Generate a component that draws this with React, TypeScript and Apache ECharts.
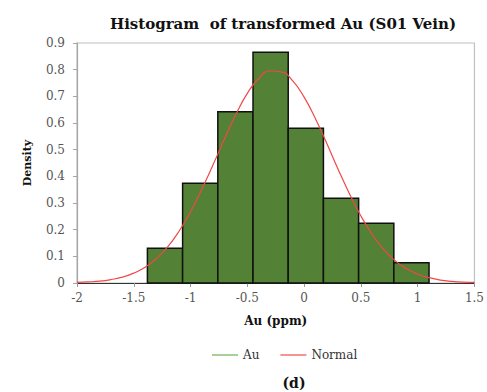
import React, { useEffect, useRef } from "react";
import * as echarts from "echarts";

const binEdges = [-1.38, -1.07, -0.76, -0.45, -0.14, 0.17, 0.48, 0.79, 1.1];
const densities = [0.13, 0.374, 0.642, 0.865, 0.58, 0.318, 0.224, 0.076];
const curveX = [-2, -1.9, -1.8, -1.7, -1.6, -1.5, -1.4, -1.3, -1.2, -1.1, -1.0, -0.9, -0.8, -0.7, -0.6, -0.5, -0.4, -0.3, -0.2, -0.1, 0, 0.1, 0.2, 0.3, 0.4, 0.5, 0.6, 0.7, 0.8, 0.9, 1.0, 1.1, 1.2, 1.3, 1.4, 1.5];
const curveY = [0.002, 0.004, 0.007, 0.013, 0.022, 0.037, 0.059, 0.092, 0.136, 0.195, 0.267, 0.352, 0.445, 0.542, 0.633, 0.711, 0.767, 0.795, 0.792, 0.758, 0.697, 0.616, 0.523, 0.426, 0.334, 0.251, 0.182, 0.126, 0.084, 0.054, 0.033, 0.02, 0.011, 0.006, 0.003, 0.002];
const xTickLabels = ["-2", "-1.5", "-1", "-0.5", "0", "0.5", "1", "1.5"];
const yTickLabels = ["0", "0.1", "0.2", "0.3", "0.4", "0.5", "0.6", "0.7", "0.8", "0.9"];

const FONT = "DejaVu Serif";

export default function App() {
  const ref = useRef<HTMLDivElement>(null);
  useEffect(() => {
    if (!ref.current) return;
    const chart = echarts.init(ref.current, null, { renderer: "svg" });
    const histData = densities.map((d, i) => [binEdges[i], binEdges[i + 1], d]);
    const curveData = curveX.map((x, i) => [x, curveY[i]]);
    chart.setOption({
      animation: false,
      backgroundColor: "#ffffff",
      grid: {
        left: 77,
        right: 8,
        top: 43,
        bottom: 109,
        show: true,
        borderColor: "#c0c0c0",
        borderWidth: 1.2,
      },
      graphic: [
        {
          type: "text",
          x: 283,
          y: 24,
          style: {
            text: "Histogram  of transformed Au (S01 Vein)",
            font: `bold 15px "${FONT}"`,
            fill: "#111",
            textAlign: "center",
            textVerticalAlign: "middle",
          },
        },
        {
          type: "text",
          x: 294,
          y: 383,
          style: {
            text: "(d)",
            font: `bold 14px "${FONT}"`,
            fill: "#111",
            textAlign: "center",
            textVerticalAlign: "middle",
          },
        },
      ],
      legend: {
        left: 207,
        top: 344,
        itemGap: 21,
        itemWidth: 26,
        itemHeight: 1.5,
        textStyle: { fontFamily: FONT, fontSize: 12, color: "#333" },
        data: [
          { name: "Au", icon: "rect", itemStyle: { color: "#8cc07a" } },
          { name: "Normal", icon: "rect", itemStyle: { color: "#f07070" } },
        ],
      },
      xAxis: {
        type: "value",
        min: -2,
        max: 1.5,
        interval: 0.5,
        name: "Au (ppm)",
        nameLocation: "middle",
        nameGap: 32,
        nameTextStyle: { fontFamily: FONT, fontSize: 12, fontWeight: "bold", color: "#111" },
        axisLine: { show: true, lineStyle: { color: "#333", width: 1.2 } },
        axisTick: { show: true, length: 4, lineStyle: { color: "#999" } },
        axisLabel: {
          margin: 9,
          fontFamily: FONT,
          fontSize: 12,
          color: "#555",
          formatter: (v: number) => xTickLabels[Math.round((v + 2) / 0.5)] ?? String(v),
        },
        splitLine: { show: false },
      },
      yAxis: {
        type: "value",
        min: 0,
        max: 0.9,
        interval: 0.1,
        name: "Density",
        nameLocation: "middle",
        nameGap: 44,
        nameTextStyle: { fontFamily: FONT, fontSize: 11, fontWeight: "bold", color: "#111" },
        axisLine: { show: true, onZero: false, lineStyle: { color: "#a6a6a6", width: 1.2 } },
        axisTick: { show: true, length: 4, lineStyle: { color: "#a6a6a6" } },
        axisLabel: {
          margin: 12,
          fontFamily: FONT,
          fontSize: 12,
          color: "#555",
          formatter: (v: number) => yTickLabels[Math.round(v * 10)] ?? String(v),
        },
        splitLine: { show: false },
      },
      series: [
        {
          name: "Au",
          type: "custom",
          data: histData,
          encode: { x: [0, 1], y: 2 },
          renderItem: (params: any, api: any) => {
            const p0 = api.coord([api.value(0), api.value(2)]);
            const p1 = api.coord([api.value(1), 0]);
            return {
              type: "rect",
              shape: { x: p0[0], y: p0[1], width: p1[0] - p0[0], height: p1[1] - p0[1] },
              style: { fill: "#538135", stroke: "#111", lineWidth: 1.5 },
            };
          },
          z: 2,
        },
        {
          name: "Normal",
          type: "line",
          data: curveData,
          smooth: true,
          showSymbol: false,
          lineStyle: { color: "#f04848", width: 1.2 },
          itemStyle: { color: "#f07070" },
          z: 3,
        },
      ],
    });
    return () => chart.dispose();
  }, []);
  return (
    <div
      ref={ref}
      style={{ position: "fixed", left: 0, top: 0, width: 487, height: 392, background: "#fff" }}
    />
  );
}
